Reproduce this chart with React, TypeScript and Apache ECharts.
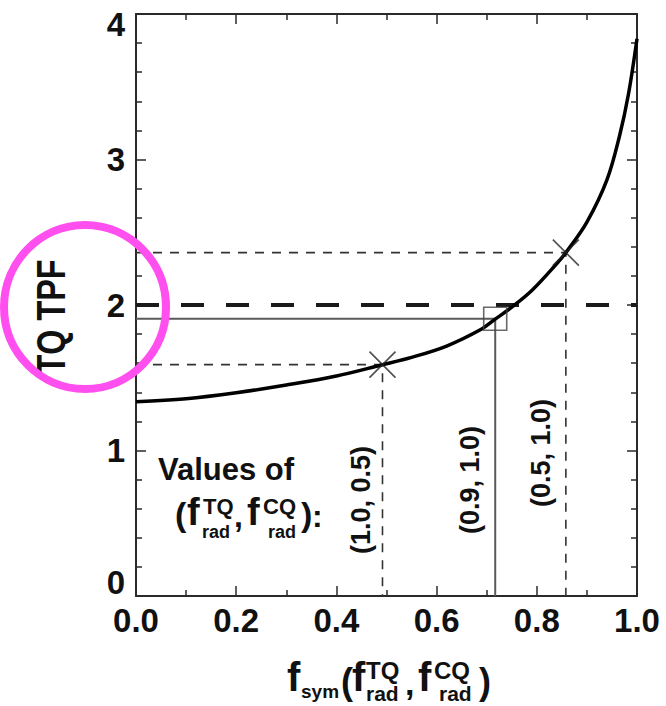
import React, { useEffect, useRef } from "react";
import * as echarts from "echarts";

// ---- data ----
const curveX = [0, 0.1, 0.2, 0.3, 0.4, 0.49, 0.55, 0.62, 0.69, 0.717, 0.75, 0.79, 0.84, 0.858, 0.9, 0.94, 0.965, 0.983, 1.0];
const curveY = [1.335, 1.356, 1.397, 1.45, 1.512, 1.588, 1.64, 1.718, 1.835, 1.903, 1.985, 2.1, 2.285, 2.36, 2.57, 2.86, 3.16, 3.45, 3.83];

const crossX = [0.492, 0.858];
const crossY = [1.59, 2.36];
const squareX = 0.717;
const squareY = 1.905;
const thresholdY = 2.0;

const xTickMin = 0;
const xTickMax = 1;
const xTickStep = 0.2;
const yTickMin = 0;
const yTickMax = 4;
const yTickStep = 1;

const pairLabels = ["(1.0, 0.5)", "(0.9, 1.0)", "(0.5, 1.0)"];

const FONT = "'Liberation Sans', Arial, Helvetica, sans-serif";
const INK = "#111";
const AXIS = "#2a2a2a";

function txt(text: string, x: number, y: number, size: number, extra: any = {}) {
  return {
    type: "text",
    x,
    y,
    z: 50,
    ...extra,
    style: {
      text,
      fontSize: size,
      fontWeight: "bold",
      fontFamily: FONT,
      fill: INK,
      align: "left",
      verticalAlign: "middle",
      ...(extra.style || {}),
    },
  };
}

export default function App() {
  const ref = useRef<HTMLDivElement>(null);
  useEffect(() => {
    const chart = echarts.init(ref.current!, null, { renderer: "svg" });

    const axisLine = { show: true, onZero: false, lineStyle: { color: AXIS, width: 2 } };
    const axisTick = { show: true, inside: true, length: 10, lineStyle: { color: AXIS, width: 1.5 } };
    const labelStyle = { fontSize: 33, fontWeight: "bold", fontFamily: FONT, color: INK };

    const crossSeries = crossX.map((x, i) => ({
      type: "line",
      data: [
        [0, crossY[i]],
        [x, crossY[i]],
        [x, 0],
      ],
      showSymbol: false,
      symbol: "none",
      lineStyle: { color: "#333", width: 1.6, type: [9, 8] },
      z: 2,
    }));

    const option: any = {
      animation: false,
      backgroundColor: "#ffffff",
      grid: { left: 136, right: 29, top: 14, bottom: 110, outerBoundsMode: "none", containLabel: false },
      xAxis: [
        {
          type: "value",
          position: "bottom",
          min: xTickMin,
          max: xTickMax,
          interval: xTickStep,
          axisLine,
          axisTick,
          minorTick: { show: true, splitNumber: 2, length: 6, lineStyle: { color: AXIS, width: 1.5 } },
          splitLine: { show: false },
          axisLabel: { ...labelStyle, margin: 8, formatter: (v: number) => v.toFixed(1) },
        },
        {
          type: "value",
          position: "top",
          min: xTickMin,
          max: xTickMax,
          interval: xTickStep,
          axisLine,
          axisTick,
          minorTick: { show: true, splitNumber: 2, length: 6, lineStyle: { color: AXIS, width: 1.5 } },
          splitLine: { show: false },
          axisLabel: { show: false },
        },
      ],
      yAxis: [
        {
          type: "value",
          position: "left",
          min: yTickMin,
          max: yTickMax,
          interval: yTickStep,
          axisLine,
          axisTick,
          minorTick: { show: true, splitNumber: 5, length: 6, lineStyle: { color: AXIS, width: 1.5 } },
          splitLine: { show: false },
          axisLabel: {
            ...labelStyle,
            margin: 11,
            formatter: (v: number) => (v === yTickMax ? "{t|" + v + "}" : v === yTickMin ? "{b|" + v + "}" : String(v)),
            rich: {
              t: { ...labelStyle, padding: [20, 0, 0, 0] },
              b: { ...labelStyle, padding: [0, 0, 28, 0] },
            },
          },
        },
        {
          type: "value",
          position: "right",
          min: yTickMin,
          max: yTickMax,
          interval: yTickStep,
          axisLine,
          axisTick,
          minorTick: { show: true, splitNumber: 5, length: 6, lineStyle: { color: AXIS, width: 1.5 } },
          splitLine: { show: false },
          axisLabel: { show: false },
        },
      ],
      series: [
        {
          type: "line",
          data: [
            [xTickMin, thresholdY],
            [xTickMax, thresholdY],
          ],
          showSymbol: false,
          symbol: "none",
          lineStyle: { color: "#1a1a1a", width: 4, type: [23, 22] },
          z: 3,
        },
        ...crossSeries,
        {
          type: "line",
          data: [
            [0, squareY],
            [squareX, squareY],
            [squareX, 0],
          ],
          showSymbol: false,
          symbol: "none",
          lineStyle: { color: "#5a5a5a", width: 2 },
          z: 2,
        },
        {
          type: "line",
          data: curveX.map((x, i) => [x, curveY[i]]),
          smooth: 0.35,
          showSymbol: false,
          symbol: "none",
          lineStyle: { color: "#000", width: 3.5 },
          z: 5,
        },
        {
          type: "scatter",
          data: crossX.map((x, i) => [x, crossY[i]]),
          symbol: "path://M0 0L10 10M10 0L0 10",
          symbolSize: 26,
          itemStyle: { color: "none", borderColor: "#222", borderWidth: 1.6 },
          z: 6,
        },
        {
          type: "scatter",
          data: [[squareX, squareY]],
          symbol: "rect",
          symbolSize: 23,
          itemStyle: { color: "rgba(0,0,0,0)", borderColor: "#444", borderWidth: 1.6 },
          z: 6,
        },
      ],
      graphic: [
        // y-axis title
        txt("TQ TPF", 51, 317, 40, { rotation: Math.PI / 2, scaleX: 0.81, style: { align: "center" } }),
        // "Values of" annotation
        txt("Values of", 158, 469, 31),
        txt("(", 175, 514, 34),
        txt("f", 187, 512, 38),
        txt("TQ", 203, 506, 22),
        txt("rad", 202, 532, 18),
        txt(",", 234, 516, 32),
        txt("f", 247, 512, 38),
        txt("CQ", 263, 506, 22),
        txt("rad", 268, 532, 18),
        txt(")", 301, 514, 34),
        txt(":", 312, 516, 32),
        // rotated pair labels
        txt(pairLabels[0], 361, 500, 27, { rotation: Math.PI / 2, style: { align: "center" } }),
        txt(pairLabels[1], 470, 480, 27, { rotation: Math.PI / 2, style: { align: "center" } }),
        txt(pairLabels[2], 541, 453, 27, { rotation: Math.PI / 2, style: { align: "center" } }),
        // x-axis title
        txt("f", 287, 677, 40),
        txt("sym", 301, 691, 19),
        txt("(", 341, 681, 36),
        txt("f", 352, 677, 40),
        txt("TQ", 366, 670, 24),
        txt("rad", 366, 693, 21),
        txt(",", 405, 683, 34),
        txt("f", 418, 677, 40),
        txt("CQ", 434, 670, 24),
        txt("rad", 439, 693, 21),
        txt(")", 479, 681, 36),
        // magenta highlight circle
        {
          type: "ellipse",
          z: 100,
          shape: { cx: 85, cy: 307, rx: 81, ry: 82 },
          style: { fill: "none", stroke: "#FF4FEF", lineWidth: 8 },
        },
      ],
    };

    chart.setOption(option);
    return () => chart.dispose();
  }, []);

  return (
    <div
      ref={ref}
      style={{ position: "fixed", left: 0, top: 0, width: 666, height: 706, background: "#fff" }}
    />
  );
}
